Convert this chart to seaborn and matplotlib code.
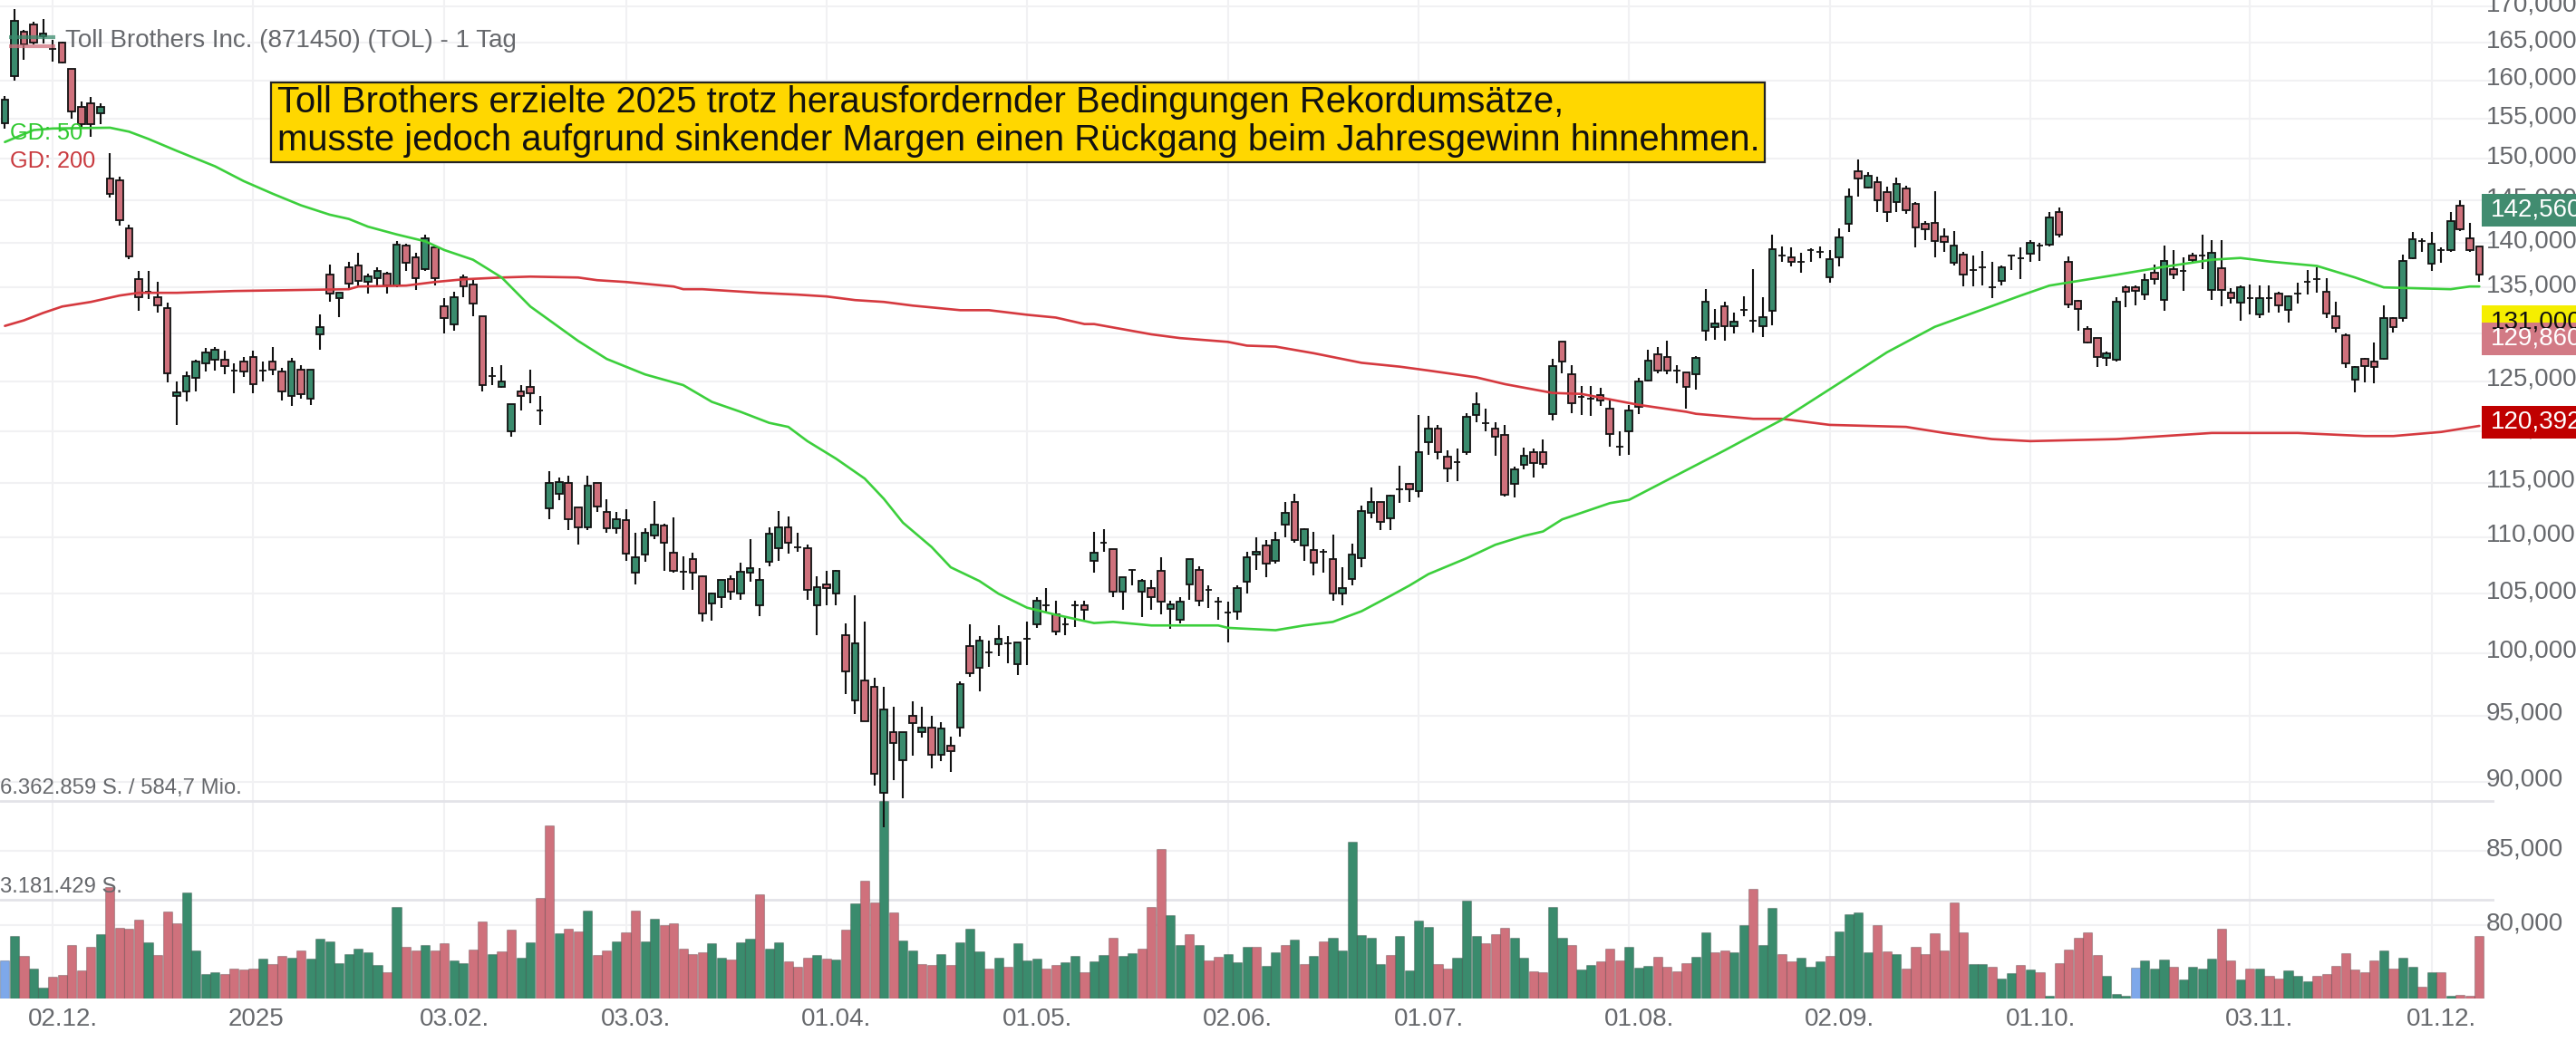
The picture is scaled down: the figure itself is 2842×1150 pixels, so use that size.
import matplotlib
matplotlib.use('Agg')
import matplotlib.pyplot as plt
from matplotlib.patches import Rectangle
from matplotlib.transforms import ScaledTranslation
import numpy as np
import pandas as pd
import seaborn as sns

# kurse in tausend, eine zeile = 10 handelstage
open_px = [
    154.5,160.5,166.5,167.5,165.9,164.2,165,161.5,156.5,157,
    155.7,147.6,147.4,141.7,135.9,134.5,133.9,132.7,123.5,124,
    125.3,126.8,127.2,127.2,126.1,127,127.5,126.1,127,126,
    123.5,126.2,123.2,129.9,136.4,133.8,137.2,137.4,135.6,136,
    136.5,135.2,139.7,138.4,137,139.5,132.9,131,136.1,135.3,
    131.8,125.5,124.4,120,124,124.4,122,112.6,114,115,
    112.7,110.9,115,112.3,110.8,111.5,106.8,108.4,110.1,111,
    108.6,106.9,108,106.5,104.2,104.7,106.3,105,106.8,104,
    107.8,109,110.9,109.1,109,104,105.8,105,101.5,96.2,
    97.8,97.3,89.2,93.7,91.6,95,93.7,94.1,92,92.7,
    94.1,100.6,98.8,100.1,100.7,100.8,99.1,101.2,102.4,104,
    103.2,102.4,104,104,107.9,109.5,108.9,105.2,107.1,105.2,
    105.5,107,103.7,102.8,105.8,107.1,105.3,104.3,103.4,103.5,
    106,108.4,109.2,107.9,111.1,113.2,109.2,108.8,108.7,108,
    105,106.3,108.1,112.2,113.2,111.7,114.4,114.9,114.2,118.9,
    120.2,117.5,117,117.9,121.6,120.8,120.2,119.6,114.9,116.7,
    117.9,117.9,121.7,129.1,125.7,123.4,123.2,123.6,122.2,118.5,
    120,122.4,125.1,127.8,127.5,126.1,125.9,125.7,130.3,130.7,
    132.9,130.8,132.5,131.4,130.8,132.4,138.6,138.4,137.9,139.2,
    139,136.1,138.4,142.2,148.5,146.5,147.2,146,144.8,146.4,
    144.6,142.2,142.3,140.8,137.8,138.7,136.9,137.2,135,135.7,
    138.6,138.3,138.8,139.7,139.8,143.6,137.9,133.5,130.5,129.5,
    127.4,127.2,135,135,134.2,136.6,133.6,137,136.8,138.6,
    138.6,134.7,137.1,134.4,133.3,133.8,132,133.8,134.3,132.5,
    134.3,135.6,135.9,134.5,131.8,129.8,125.2,127.3,127,127.3,
    131.6,131.6,138.3,140.2,137.7,139.2,139.2,144.4,140.5,139.6,
]
high_px = [
    158,169.6,166.7,167.9,168.2,165.4,165.1,161.5,157.3,157.8,
    157,150.7,147.8,142.1,136.8,136.8,135.6,133.3,125,126,
    127.2,128.5,128.6,128.2,126.8,127.5,128.2,127,128.6,126.4,
    127.4,126.7,126.2,132,137.6,134.4,137.9,138.9,136.5,137.2,
    136.7,140.2,139.9,138.9,141,139.7,133.8,134.5,136.4,135.8,
    131.8,126.5,126.7,122.7,124.6,126.2,123.5,116.1,115.5,115.7,
    112.7,115.7,115,113.5,112.3,112.5,110.4,110.8,113.3,111.2,
    111.8,108.3,108.6,106.6,105.1,106.2,106.6,107.7,109.8,107.2,
    110.9,112.4,111.9,110.4,109.3,106.5,107,107.1,102.5,104.9,
    102.6,98,97.3,95.7,93.7,96.1,95.7,95,94.5,93.4,
    97.7,102.4,101.4,101,102.3,101.4,100.9,102.6,104.7,105.5,
    104.4,103.1,104.4,104.4,110.5,110.7,108.9,106.4,107.1,106.3,
    106.2,108.2,104.4,104.7,108,107.4,105.7,104.7,104.3,105.7,
    108.7,110,109.7,110.5,113.2,114,110.8,110.5,108.9,110.2,
    107.3,109.4,112.9,114.6,113.2,113.9,116.6,115,121.6,121.5,
    120.6,118.1,118.3,121.8,123.9,122.2,120.9,120.6,116.5,118.4,
    118.3,119.2,127.3,129.1,126.7,124.5,124.5,124.3,123.1,120,
    122.6,125.3,128.3,128.6,129.2,126.7,125.9,127.6,134.8,132.6,
    133.4,132.2,134,137,133.9,141,139.6,139.5,138.9,139.4,
    139.6,139.2,141.7,146.4,149.9,148.4,147.8,146.6,147.7,146.7,
    144.8,142.6,146.1,141.7,141.4,139,138.6,139.1,137.9,137.4,
    138.6,139.5,140.3,140,143.6,144.2,138.5,133.6,130.8,129.5,
    128.1,133.9,135.2,135.2,136.5,137.5,139.7,139.2,138.4,138.9,
    141,140.3,140.3,134.9,135.2,135.3,135.2,135.2,134.5,134.1,
    135.5,136.9,137.2,136,133.4,130,126.6,127.4,129,133,
    131.7,138.7,141.3,140.5,141.3,139.5,143.6,145,142.3,139.6,
]
low_px = [
    153.8,160,162.7,164.8,164.9,162.5,162.2,155,154,152.7,
    154.3,145.3,142,138.2,132.4,133.7,132.2,124.9,120.6,122.9,
    124,126,126.1,125.7,123.8,125.4,123.8,125,125.6,123,
    122.5,123.2,122.6,128.3,133.4,131.7,134.7,135,134.3,135,
    134.3,135,136.8,134.7,136.8,135.2,130,130.3,133.9,131.8,
    124,124.6,124.3,119.4,122,122.8,120.6,111.6,113.4,110.6,
    109.3,110.6,112.3,110.4,110.3,107.9,105.8,107.8,109.8,107,
    106.8,105.3,105.3,102.6,102.7,103.8,104.5,104.5,106,103.1,
    107.4,107.9,108.5,108.7,104.5,101.5,104,104,96.7,95.1,
    94.6,89.7,86.7,90.1,88.8,91.9,93.3,91,91.5,90.7,
    93.4,98.1,96.9,98.9,99.8,99.2,98.2,99,102.1,103.4,
    101.5,101.5,102.2,102.8,106.8,108.7,104.7,103.6,105.7,103,
    103.6,103.2,102,102.5,104.5,103.9,103.8,102.8,100.9,102.8,
    105,107.1,106.4,107.6,110,109.5,107.9,106.6,106.8,104.4,
    104,105.7,107.3,111.7,110.6,110.6,113.1,113.2,113.6,117.7,
    117.2,115.1,115.2,117.7,120.9,120,117.6,113.7,113.6,116.3,
    115.5,116.4,121,125.8,121.8,121.6,121.5,122.5,118.5,117.6,
    117.7,121.7,125,125.8,125.7,124.8,122.2,124.1,129.2,129.3,
    129.2,130,131.8,130.1,129.6,130.9,137.9,137.3,136.6,137.9,
    138.3,135.5,137.3,141.3,145.4,146.4,143.6,142.4,143.6,143.4,
    139.5,140.3,138.4,139,137.4,135.1,135.1,135.2,133.8,135.2,
    136.9,135.9,137.9,138,139.6,140.7,132.7,130.3,128.9,126.5,
    126.6,127,132.8,133,133.6,135.3,132.4,135.9,134.6,137.9,
    137,133.6,132.9,133.2,131.4,132,131.6,132.2,132.2,131.2,
    133.2,134.2,134.4,131.6,130.1,126.4,123.9,124.9,124.8,127.2,
    130.1,131.3,138.2,139,136.8,137.8,139,141.4,139,135.6,
]
close_px = [
    157.5,168,164.8,165,166.3,164.2,162.4,156,154.3,154.3,
    156.5,145.8,142.7,138.5,133.9,134.5,133,125.8,123.9,125.5,
    127,128,128.3,126.6,126.1,126,124.7,126.1,126.2,124,
    127,123.7,126.2,130.7,134.3,134.4,135.4,135.7,136.2,136.8,
    135.2,139.8,137.8,136,140.6,136,131.6,133.9,135.1,133.2,
    124.6,125.5,125,122.7,123.5,123.8,122,115,115.1,111.6,
    110.9,114.7,112.8,110.8,111.6,108.5,108.2,110.4,111.1,109.5,
    107,106.9,106.8,103.3,105,106.2,105.2,106.9,107.2,106.2,
    110.3,110.9,109.5,109.1,105.3,105.6,105.5,107,98.5,100.8,
    94.6,90.6,95.5,92.9,93.7,94.4,94.1,92,94,92.3,
    97.5,98.4,101,100.1,101.2,100.8,100.9,101.2,104.4,104,
    101.8,102.4,104,103.6,108.6,109.5,105.2,106.4,107.1,106.1,
    104.7,104.3,104.1,104.3,108,104.4,105.3,104.3,103.4,105.5,
    108.2,108.7,107.6,109.7,112.2,109.7,110.7,107.7,108.7,105,
    105.5,108.4,112.4,113.2,111.4,113.8,114.4,114.4,117.9,120.2,
    117.9,116.4,117,121.4,122.7,120.8,119.4,113.9,116.3,117.6,
    116.9,116.8,126.6,127,122.8,123.4,123.2,123,119.7,118.5,
    122,125,127.1,126.1,126.1,126.1,124.4,127.4,133.4,131.1,
    130.8,131.3,132.5,131.4,131.7,139.3,138.6,137.9,137.9,139.2,
    139,138.2,140.7,145.4,147.6,148,145,143.6,147,143.8,
    141.8,141.6,140.2,140.1,139.7,136.4,136.9,137.2,135,137.2,
    138.6,138.3,140,139.7,143,141,133.1,132.6,129,127.5,
    127.9,133.4,134.5,134.6,135.8,135.9,138,136.4,136.8,138.1,
    138.6,138.9,134.7,133.8,135,133.8,133.8,133.8,133,134,
    134.3,135.6,135.9,132.1,130.6,126.8,126.5,126.6,126.5,131.6,
    130.7,138,140.4,140.2,139.9,139.2,142.6,141.6,139.2,136.4,
]

# volumen in mio. stueck, farbe der balken: b/g/r
volume = [
    1.24,2.01,1.38,.97,.34,.70,.75,1.73,.91,1.67,
    2.08,3.60,2.29,2.26,2.53,1.82,1.39,2.79,2.43,3.42,
    1.55,.80,.85,.80,.97,.92,.96,1.28,1.10,1.37,
    1.32,1.56,1.29,1.92,1.85,1.15,1.44,1.61,1.49,1.09,
    .85,2.95,1.67,1.56,1.73,1.56,1.77,1.22,1.15,1.58,
    2.48,1.44,1.53,2.21,1.31,1.80,3.25,5.57,2.09,2.24,
    2.17,2.83,1.39,1.56,1.85,2.14,2.82,1.85,2.58,2.36,
    2.43,1.61,1.43,1.49,1.77,1.31,1.26,1.80,1.94,3.36,
    1.61,1.80,1.20,1.02,1.31,1.41,1.29,1.26,2.21,3.06,
    3.79,3.09,6.36,2.77,1.88,1.56,1.12,1.07,1.44,1.07,
    1.82,2.26,1.53,.97,1.31,1.02,1.77,1.22,1.29,.97,
    1.07,1.17,1.38,.85,1.20,1.41,1.95,1.37,1.46,1.61,
    2.96,4.82,2.68,1.72,2.08,1.72,1.22,1.33,1.43,1.17,
    1.65,1.65,1.04,1.50,1.72,1.90,1.10,1.38,1.85,1.97,
    1.56,5.06,2.04,1.97,1.12,1.39,2.01,.91,2.51,2.31,
    1.12,.97,1.30,3.14,2.02,1.78,2.08,2.27,1.97,1.32,
    .88,.85,2.94,1.97,1.72,.94,1.07,1.21,1.61,1.22,
    1.67,.99,1.04,1.34,1.02,.89,1.15,1.34,2.14,1.49,
    1.56,1.49,2.35,3.52,1.72,2.92,1.44,1.20,1.31,1.02,
    1.20,1.38,2.16,2.72,2.77,1.50,2.37,1.53,1.43,.97,
    1.65,1.44,2.11,1.54,3.08,2.14,1.10,1.10,1.02,.63,
    .83,1.08,.92,.85,.10,1.15,1.58,1.97,2.12,1.39,
    .73,.15,.09,1.00,1.24,.97,1.26,1.02,.61,1.02,
    .97,1.29,2.26,1.24,.61,.95,.97,.73,.63,.90,
    .73,.54,.73,.80,1.05,1.46,.92,.86,1.22,1.56,
    .97,1.31,1.02,.37,.85,.86,.10,.13,.10,2.02,
]
volume_side = list(
    "bgrggrrrrr" "grrrrgrrrg" "gggrrrrgrr" "grgggggggg" "rgrrgrrggr"
    "rgrrggrrgr" "rgrrgrrggr" "rrrrggrggr" "ggrrrgrgrg" "rrgrggrrgr"
    "gggrgrgggr" "rggrggrggr" "rrggrgrrgg" "grggrgrgrg" "gggggrgggg"
    "rrgggrrrgg" "rrggrggrrr" "gggrrrrggr" "rggrggrrgg" "grggggrrgr"
    "rrrrrrggrg" "grgrgrrrrr" "gggbgggrgg" "ggrrgrgrrg" "ggrrrrrrrg"
    "rggrgrgrrr"
)

# gleitende durchschnitte, stuetzstellen je kerze
sma50_idx = [0,3,5,11,13,15,18,22,25,28,31,34,36,38,41,44,46,49,52,55,60,63,67,71,74,
             77,80,82,84,87,90,92,94,97,99,102,104,107,110,114,116,120,127,128,133,136,
             139,142,145,147,149,153,156,159,161,163,168,170,176,180,183,186,192,197,
             202,211,214,221,226,231,234,237,242,246,249,256,258,259]
sma50_val = [152.1,153.6,153.8,153.9,153.4,152.5,151.0,149.1,147.3,145.8,144.4,143.3,142.8,
             141.9,141.0,140.2,139.2,138.1,136.1,132.9,129.2,127.3,125.7,124.6,122.9,
             121.9,120.8,120.4,119.0,117.3,115.4,113.5,111.3,109.1,107.3,106.1,105.0,
             103.8,103.2,102.5,102.6,102.3,102.3,102.1,101.9,102.3,102.6,103.5,104.8,
             105.7,106.7,108.1,109.3,110.1,110.5,111.6,113.1,113.4,116.2,118.1,119.6,
             121.1,124.8,128.0,130.7,134.1,135.2,136.4,137.3,138.1,138.3,137.9,137.4,
             136.1,135.0,134.8,135.1,135.1]
sma200_idx = [0,2,4,6,9,12,14,18,24,36,37,42,45,48,52,55,60,62,65,70,71,73,76,79,83,86,89,
              92,95,97,100,103,107,110,113,114,120,123,128,130,133,137,142,146,149,154,
              157,162,165,171,176,177,183,186,191,199,203,208,212,221,231,240,247,250,
              255,259]
sma200_val = [130.8,131.4,132.2,132.9,133.4,134.1,134.4,134.4,134.6,134.8,135.1,135.2,135.6,
              135.9,136.1,136.2,136.1,135.8,135.6,135.1,134.8,134.8,134.6,134.4,134.2,
              134.0,133.6,133.4,133.0,132.8,132.5,132.5,132.0,131.7,131.0,131.0,129.9,
              129.5,129.1,128.7,128.6,127.9,126.9,126.5,126.1,125.4,124.7,123.8,123.7,
              122.6,121.9,121.7,121.2,121.2,120.6,120.4,119.8,119.2,119.0,119.2,119.8,
              119.8,119.5,119.5,119.9,120.5]

price_ticks = [80, 85, 90, 95, 100, 105, 110, 115, 120, 125, 130, 135, 140, 145, 150, 155, 160, 165, 170]
price_labels = [f"{t},000" for t in price_ticks]
date_ticks = [5, 26, 46, 65, 86, 107, 128, 148, 170, 191, 212, 235, 254]
date_labels = ["02.12.", "2025", "03.02.", "03.03.", "01.04.", "01.05.", "02.06.",
               "01.07.", "01.08.", "02.09.", "01.10.", "03.11.", "01.12."]
volume_ticks = [3.181429, 6.362859]
volume_labels = ["3.181.429 S.", "6.362.859 S. / 584,7 Mio."]

title = "Toll Brothers Inc. (871450) (TOL) - 1 Tag"
headline = ("Toll Brothers erzielte 2025 trotz herausfordernder Bedingungen Rekordumsätze,\n"
            "musste jedoch aufgrund sinkender Margen einen Rückgang beim Jahresgewinn hinnehmen.")

GREEN = '#3a8b6d'
PINK = '#cf717c'
BLUE = '#7ea8ea'
GRID = '#f1f1f3'
TEXT_GREY = '#66686c'
W, H = 2842, 1150
PLOT_W, PLOT_H = 2752, 1102

sns.set_theme(style='white')
plt.rcParams['font.family'] = ['Liberation Sans', 'DejaVu Sans']

candles = pd.DataFrame({'open': open_px, 'high': high_px, 'low': low_px, 'close': close_px})
candles['idx'] = np.arange(len(candles))
candles['vol'] = volume
candles['side'] = volume_side

fig = plt.figure(figsize=(W / 100, H / 100), dpi=100, facecolor='white')
rect = [0, (H - PLOT_H) / H, PLOT_W / W, PLOT_H / H]

# raster + achsen unten, volumen darueber, kerzen ganz oben
ax = fig.add_axes(rect, zorder=1)
ax_vol = fig.add_axes(rect, zorder=2, sharex=ax)
ax_px = fig.add_axes(rect, zorder=3, sharex=ax, sharey=ax)

ax.set_yscale('log')
ax.set_ylim(75.325, 170.9)
ax.minorticks_off()
ax.set_yticks(price_ticks)
ax.set_yticklabels(price_labels)
ax.yaxis.tick_right()
ax.set_xticks(date_ticks)
ax.set_xticklabels(date_labels)
ax.grid(True, axis='both', color=GRID, lw=1.5)
ax.set_axisbelow(True)
ax.tick_params(axis='y', length=0, pad=-6.5, labelsize=20, labelcolor=TEXT_GREY)
ax.tick_params(axis='x', length=0, pad=7, labelsize=20, labelcolor=TEXT_GREY)
sns.despine(ax=ax, left=True, bottom=True, right=True, top=True)

# volumen
sns.barplot(data=candles, x='idx', y='vol', hue='side', hue_order=['g', 'r', 'b'],
            palette={'g': GREEN, 'r': PINK, 'b': BLUE}, native_scale=True, dodge=False,
            width=0.96, saturation=1, legend=False, edgecolor=(0, 0, 0, 0.22), linewidth=0.8,
            ax=ax_vol)
ax_vol.set_ylim(0, 3.181429 * PLOT_H / 109)
ax_vol.patch.set_visible(False)
ax_vol.set_yticks(volume_ticks)
ax_vol.grid(True, axis='y', color='#e3e3e8', lw=2)
ax_vol.set_axisbelow(True)
ax_vol.set_xlabel('')
ax_vol.set_ylabel('')
ax_vol.tick_params(left=False, bottom=False, labelleft=False, labelbottom=False)
sns.despine(ax=ax_vol, left=True, bottom=True, right=True, top=True)

# kerzen
body_low = candles[['open', 'close']].min(axis=1)
body_high = candles[['open', 'close']].max(axis=1)
body_col = [GREEN if c > o else PINK for o, c in zip(open_px, close_px)]
ax_px.vlines(candles['idx'], candles['low'], candles['high'], color='#111111', lw=1.5, zorder=3)
ax_px.bar(candles['idx'], body_high - body_low, bottom=body_low, width=0.72, color=body_col,
          edgecolor='#111111', linewidth=1.3, zorder=4)

# GD 50 / GD 200
sns.lineplot(x=sma200_idx, y=sma200_val, color='#d5393f', lw=1.9, estimator=None, ax=ax_px, zorder=5)
sns.lineplot(x=sma50_idx, y=sma50_val, color='#3ccf3c', lw=1.9, estimator=None, ax=ax_px, zorder=5)
ax_px.patch.set_visible(False)
ax_px.axis('off')

ax.set_xlim(-0.512, 260.58)
ax_vol.set_xlim(-0.512, 260.58)

# datums-labels stehen linksbuendig etwas vor der rasterlinie
for lab in ax.get_xticklabels():
    lab.set_ha('left')
    lab.set_transform(lab.get_transform() + ScaledTranslation(-27.5 / 100, 0, fig.dpi_scale_trans))
# preis-labels sitzen ein paar pixel ueber ihrer rasterlinie
for lab in ax.get_yticklabels():
    lab.set_transform(lab.get_transform() + ScaledTranslation(0, 5 / 100, fig.dpi_scale_trans))

# alles weitere in pixelkoordinaten
over = fig.add_axes([0, 0, 1, 1], zorder=4)
over.set_xlim(0, W)
over.set_ylim(H, 0)
over.axis('off')

over.plot([10, 61], [40.5, 40.5], color=GREEN, lw=3, alpha=0.75, solid_capstyle='butt')
over.plot([10, 61], [50.7, 50.7], color=PINK, lw=3, alpha=0.75, solid_capstyle='butt')
over.text(72, 45, title, color=TEXT_GREY, fontsize=20, va='center', ha='left')
over.text(11, 147, "GD: 50", color='#2fc92f', fontsize=18.3, va='center', ha='left')
over.text(11, 178, "GD: 200", color='#c93a3f', fontsize=18.3, va='center', ha='left')
over.text(0, 870, volume_labels[1], color=TEXT_GREY, fontsize=17.2, va='center', ha='left')
over.text(0, 979, volume_labels[0], color=TEXT_GREY, fontsize=17.2, va='center', ha='left')

over.add_patch(Rectangle((299, 91), 1648, 88, facecolor='#ffd700', edgecolor='#222222', lw=1.6))
over.text(306, 134, headline, color='#111111', fontsize=28.8, va='center', ha='left', linespacing=1.12)

# preis-schilder rechts
for y0, y1, col, txt, tcol in [
    (214, 250, '#418c70', "142,560", 'white'),
    (337, 373, '#f5ee00', "131,000", '#111111'),
    (356, 392, '#d27a85', "129,860", 'white'),
    (448, 484, '#c00000', "120,392", 'white'),
]:
    over.add_patch(Rectangle((2738, y0), W - 2738, y1 - y0, facecolor=col, edgecolor='none'))
    over.text(2748, (y0 + y1) / 2, txt, color=tcol, fontsize=20, va='center', ha='left')

fig.savefig('out.png', dpi=100)
